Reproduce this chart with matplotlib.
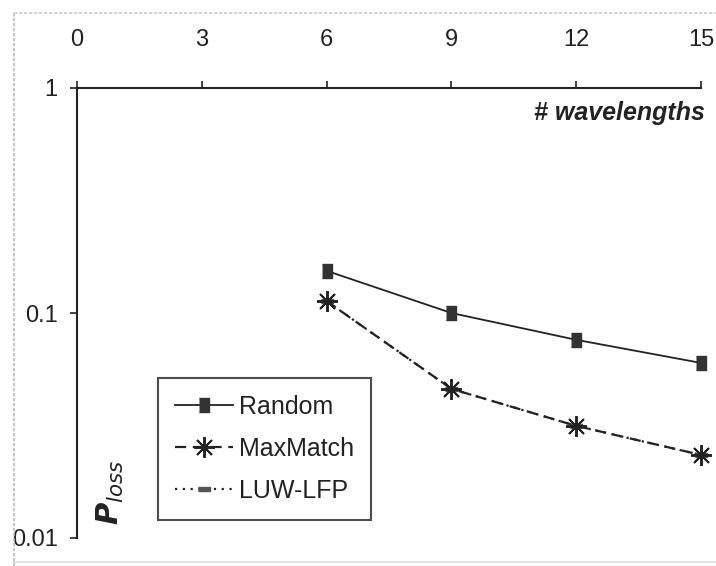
import matplotlib
matplotlib.use("Agg")
import matplotlib.pyplot as plt
from matplotlib.ticker import FixedLocator, NullLocator, FixedFormatter
from matplotlib.lines import Line2D

# ---- data ----
wavelengths = [6, 9, 12, 15]
random_vals = [0.154, 0.100, 0.076, 0.060]
maxmatch_vals = [0.113, 0.046, 0.0315, 0.0234]
luwlfp_vals = [0.113, 0.046, 0.0315, 0.0234]
x_ticks = [0, 3, 6, 9, 12, 15]
y_ticks = [0.01, 0.1, 1]
y_tick_labels = ["0.01", "0.1", "1"]
series_names = ["Random", "MaxMatch", "LUW-LFP"]

FONT = ["Liberation Sans", "DejaVu Sans"]
plt.rcParams['font.family'] = FONT

W, H = 716, 566
fig = plt.figure(figsize=(W / 100, H / 100), dpi=100)
fig.patch.set_facecolor("white")

x0, x1 = 77, 701
y_top, y_bot = 88, 538
ax = fig.add_axes([x0 / W, 1 - y_bot / H, (x1 - x0) / W, (y_bot - y_top) / H])
ax.set_facecolor("none")

ink = "#222222"
ax.set_yscale("log")
ax.set_xlim(0, 15)
ax.set_ylim(0.01, 1)

rect_tall = [(-0.75, -1), (0.75, -1), (0.75, 1), (-0.75, 1)]
rect_flat = [(-1, -0.35), (1, -0.35), (1, 0.35), (-1, 0.35)]

ax.plot(wavelengths, luwlfp_vals, linestyle=(0, (1, 2.5)), color=ink, lw=1.6,
        marker=rect_flat, ms=9, mfc="#555555", mec="#555555", clip_on=False)
ax.plot(wavelengths, maxmatch_vals, linestyle=(0, (5, 3)), color=ink, lw=1.6,
        marker=(8, 2, 0), ms=15, mec=ink, mew=1.4, clip_on=False)
ax.plot(wavelengths, random_vals, linestyle="-", color=ink, lw=1.3,
        marker=rect_tall, ms=10, mfc="#333333", mec="#333333", clip_on=False)

# spines
for s in ["right", "bottom"]:
    ax.spines[s].set_visible(False)
for s in ["left", "top"]:
    ax.spines[s].set_color(ink)
    ax.spines[s].set_linewidth(1.5)

ax.xaxis.set_ticks_position("top")
ax.xaxis.set_major_locator(FixedLocator(x_ticks))
ax.xaxis.set_minor_locator(NullLocator())
ax.tick_params(axis="x", which="major", direction="out", length=5, width=1.2,
               color=ink, pad=22, labelsize=17, labelcolor=ink)
ax.yaxis.set_major_locator(FixedLocator(y_ticks))
ax.yaxis.set_major_formatter(FixedFormatter(y_tick_labels))
ax.yaxis.set_minor_locator(NullLocator())
ax.tick_params(axis="y", which="major", direction="out", length=5, width=1.2,
               color=ink, pad=9, labelsize=17, labelcolor=ink)

# axis titles
fig.text(705 / W, 1 - 113 / H, "# wavelengths", ha="right", va="center",
         fontsize=18, fontweight="bold", fontstyle="italic", color=ink)
fig.text(110 / W, 1 - 492 / H, r"$\boldsymbol{P}_{\mathit{loss}}$", rotation=90,
         ha="center", va="center", fontsize=22, color=ink)

# legend
handles = [
    Line2D([], [], linestyle="-", color=ink, lw=1.3,
           marker=rect_tall, ms=10, mfc="#333333", mec="#333333"),
    Line2D([], [], linestyle=(0, (5, 3)), color=ink, lw=1.6, marker=(8, 2, 0), ms=15, mec=ink, mew=1.4),
    Line2D([], [], linestyle=(0, (1, 2.5)), color=ink, lw=1.6,
           marker=rect_flat, ms=9, mfc="#555555", mec="#555555"),
]
leg = fig.legend(handles, series_names, loc="upper left",
                 bbox_to_anchor=(158 / W, 1 - 378 / H), frameon=True, fancybox=False,
                 fontsize=18, handlelength=2.3, handletextpad=0.25, labelspacing=0.72,
                 borderpad=0.68, borderaxespad=0)
leg.get_frame().set_edgecolor(ink)
leg.get_frame().set_linewidth(1.5)
for t in leg.get_texts():
    t.set_color(ink)

# faint scan border
fig.add_artist(Line2D([14 / W, 14 / W], [1 - 13 / H, 0], transform=fig.transFigure,
                      color="#bbbbbb", lw=1.2, linestyle=(0, (2, 1))))
fig.add_artist(Line2D([14 / W, 1], [1 - 13 / H, 1 - 13 / H], transform=fig.transFigure,
                      color="#cccccc", lw=1.2, linestyle=(0, (2, 1))))
fig.add_artist(Line2D([14 / W, 1], [1 - 562 / H, 1 - 562 / H], transform=fig.transFigure,
                      color="#dddddd", lw=1.2))

fig.savefig("out.png", dpi=100, facecolor="white")
